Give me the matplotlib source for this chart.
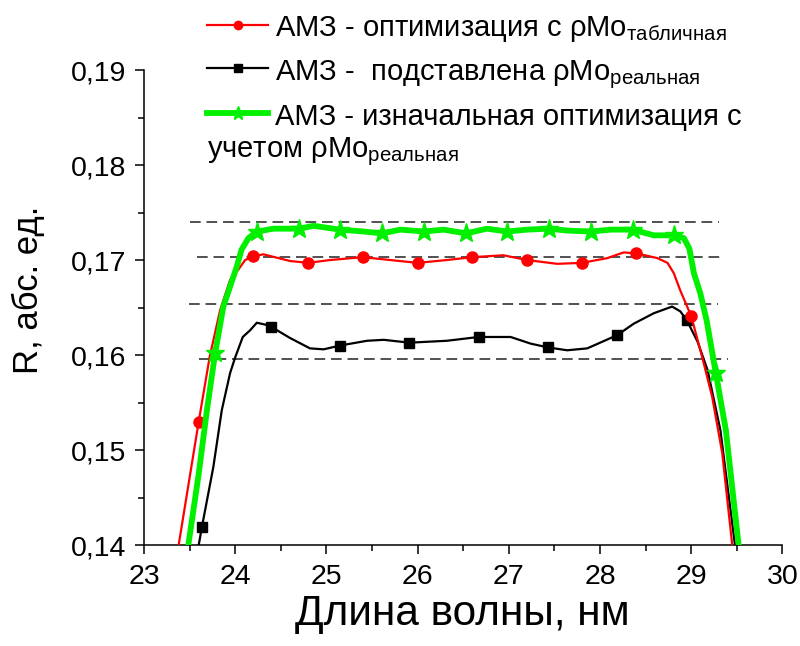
import matplotlib
matplotlib.use("Agg")
import matplotlib.pyplot as plt
from matplotlib.lines import Line2D
from matplotlib.ticker import MultipleLocator, FuncFormatter

plt.rcParams["font.family"] = ["Liberation Sans", "DejaVu Sans"]
plt.rcParams["mathtext.fontset"] = "custom"
plt.rcParams["mathtext.rm"] = "Liberation Sans"
plt.rcParams["mathtext.it"] = "Liberation Sans:italic"
plt.rcParams["mathtext.bf"] = "Liberation Sans:bold"

# --- АМЗ, оптимизация с табличной плотностью Mo (red, circles) ---
wl_tab = [23.33, 23.38, 23.60, 23.72, 23.834, 23.944, 24.035, 24.109, 24.20,
          24.31, 24.60, 24.80, 25.04, 25.40, 25.70, 26.00, 26.32, 26.60, 26.94,
          27.20, 27.53, 27.80, 28.08, 28.26, 28.40, 28.63, 28.74, 28.81, 28.88,
          29.00, 29.12, 29.23, 29.34, 29.45, 29.50]
r_tab = [0.1375, 0.1400, 0.1530, 0.1598, 0.1647, 0.1679, 0.1690, 0.1700, 0.1704,
         0.1706, 0.1699, 0.1697, 0.1700, 0.1703, 0.1700, 0.1697, 0.1700, 0.1703, 0.1705,
         0.1700, 0.1696, 0.1697, 0.1702, 0.1708, 0.1707, 0.1702, 0.1697, 0.1686, 0.1668,
         0.1641, 0.1598, 0.1556, 0.1497, 0.1400, 0.1355]
marks_tab = [2, 8, 11, 13, 15, 17, 19, 21, 24, 29]

# --- АМЗ, подставлена реальная плотность Mo (black, squares) ---
wl_real = [23.585, 23.60, 23.635, 23.76, 23.853, 23.944, 23.998, 24.083, 24.163,
           24.237, 24.33, 24.39, 24.60, 24.82, 24.97, 25.15, 25.445, 25.63, 25.91,
           26.32, 26.67, 27.02, 27.24, 27.43, 27.64, 27.86, 28.19, 28.37, 28.59,
           28.79, 28.88, 28.95, 29.07, 29.18, 29.32, 29.48, 29.52]
r_real = [0.1380, 0.1400, 0.1419, 0.1482, 0.1542, 0.1581, 0.1597, 0.1619, 0.1626,
          0.1634, 0.1632, 0.1630, 0.1618, 0.1607, 0.1606, 0.1610, 0.1615, 0.1616, 0.1613,
          0.1615, 0.1619, 0.1619, 0.1612, 0.1608, 0.1605, 0.1607, 0.1621, 0.1633, 0.1644,
          0.1651, 0.1646, 0.1637, 0.1614, 0.1584, 0.1521, 0.1400, 0.1365]
marks_real = [2, 11, 15, 18, 20, 23, 26, 31]

# --- АМЗ, изначальная оптимизация с учетом реальной плотности Mo (green, stars) ---
wl_init = [23.45, 23.486, 23.60, 23.69, 23.78, 23.87, 23.944, 24.017, 24.07,
           24.145, 24.24, 24.42, 24.70, 24.86, 25.005, 25.15, 25.41, 25.61, 25.81,
           26.07, 26.285, 26.53, 26.76, 26.98, 27.20, 27.44, 27.64, 27.90, 28.12,
           28.36, 28.59, 28.81, 28.92, 28.98, 29.03, 29.10, 29.17, 29.27, 29.38,
           29.52, 29.56]
r_init = [0.1365, 0.1400, 0.1475, 0.1542, 0.1602, 0.1651, 0.1672, 0.1693, 0.1711,
          0.1723, 0.1730, 0.1733, 0.1733, 0.1736, 0.1734, 0.1732, 0.1730, 0.1728, 0.1732,
          0.1730, 0.1732, 0.1728, 0.1733, 0.1730, 0.1732, 0.1733, 0.1731, 0.1730, 0.1732,
          0.1732, 0.1726, 0.1726, 0.1723, 0.1712, 0.1686, 0.1665, 0.1636, 0.1581, 0.1521,
          0.1400, 0.1365]
marks_init = [4, 10, 12, 15, 17, 19, 21, 23, 25, 27, 29, 31, 37]

# Reference levels (dashed)
ref_levels = [0.1740, 0.1703, 0.1654, 0.1596]
ref_start = [23.505, 23.58, 23.49, 23.60]
ref_end = [29.30, 29.37, 29.29, 29.40]

RED = "#ff0000"
GREEN = "#00f000"

fig = plt.figure(figsize=(8.0, 6.46), dpi=100)
ax = fig.add_axes([0.18, 0.1563, 0.798, 0.7353])

for lvl, x0, x1 in zip(ref_levels, ref_start, ref_end):
    ax.plot([x0, x1], [lvl, lvl], color="#222222", lw=1.1,
            linestyle=(0, (7, 3.8)), zorder=1.5)

ax.plot(wl_real, r_real, color="black", lw=1.6, marker="s", markersize=7,
        markevery=marks_real, zorder=3)
ax.plot(wl_tab, r_tab, color=RED, lw=1.6, marker="o", markersize=8,
        markevery=marks_tab, zorder=4)
ax.plot(wl_init, r_init, color=GREEN, lw=4.2, marker="*", markersize=14,
        markevery=marks_init, zorder=5)

ax.set_xlim(23, 30)
ax.set_ylim(0.14, 0.19)
ax.spines["top"].set_visible(False)
ax.spines["right"].set_visible(False)
for s in ("left", "bottom"):
    ax.spines[s].set_linewidth(1.1)

ax.xaxis.set_major_locator(MultipleLocator(1))
ax.xaxis.set_minor_locator(MultipleLocator(0.5))
ax.yaxis.set_major_locator(MultipleLocator(0.01))
ax.yaxis.set_minor_locator(MultipleLocator(0.005))
ax.yaxis.set_major_formatter(FuncFormatter(lambda v, p: f"{v:.2f}".replace(".", ",")))
ax.tick_params(which="major", direction="out", length=6.5, width=1.1,
               labelsize=20.5, pad=6)
ax.tick_params(which="minor", direction="out", length=4, width=1.1)
ax.tick_params(axis="x", which="major", pad=7)

fig.text(28 / 800, 1 - 290 / 646, "R, абс. ед.", rotation=90,
         ha="center", va="center", fontsize=25)
fig.text(462 / 800, 1 - 614 / 646, "Длина волны, нм",
         ha="center", va="center", fontsize=30.5)


# Legend drawn by hand (third entry wraps under the handle)
def fx(px):
    return px / 800


def fy(py):
    return 1 - py / 646


handles = [
    (RED, 1.6, "o", 6, 25),
    ("black", 1.6, "s", 5.5, 68),
    (GREEN, 4.2, "*", 10, 113),
]
for color, lw, mk, ms, py in handles:
    fig.add_artist(Line2D([fx(207), fx(268)], [fy(py), fy(py)], color=color,
                          lw=lw, transform=fig.transFigure))
    fig.add_artist(Line2D([fx(237.5)], [fy(py)], color=color, marker=mk,
                          markersize=ms, lw=0, transform=fig.transFigure))

leg_fs = 21
fig.text(fx(275), fy(36), r"АМЗ - оптимизация с ρMo$_\mathrm{табличная}$",
         fontsize=leg_fs, va="baseline", ha="left")
fig.text(fx(275), fy(80), r"АМЗ -  подставлена ρMo$_\mathrm{реальная}$",
         fontsize=leg_fs, va="baseline", ha="left")
fig.text(fx(275), fy(125), "АМЗ - изначальная оптимизация с",
         fontsize=leg_fs, va="baseline", ha="left")
fig.text(fx(207), fy(157), r"учетом ρMo$_\mathrm{реальная}$",
         fontsize=leg_fs, va="baseline", ha="left")

fig.savefig("out.png", dpi=100)
